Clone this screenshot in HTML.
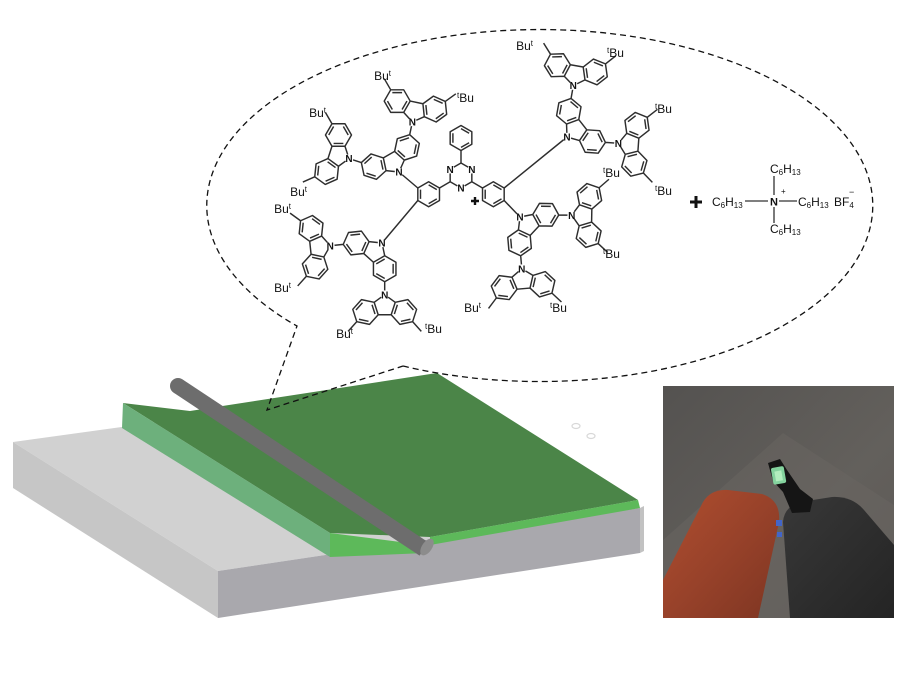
<!DOCTYPE html>
<html>
<head>
<meta charset="utf-8">
<style>
  html,body{margin:0;padding:0;background:#fff;}
  svg{display:block;}
  text{font-family:"Liberation Sans",Arial,sans-serif;fill:#111;}
</style>
</head>
<body>
<svg width="916" height="685" viewBox="0 0 916 685" xmlns="http://www.w3.org/2000/svg">
  <defs>
    <g id="cz" fill="none" stroke="#2e2e2e" stroke-width="1.45" stroke-linejoin="round">
      <path d="M0,0 L-10.52,-7.64 L-6.50,-20.02 L6.50,-20.02 L10.52,-7.64 Z
      M-10.52,-7.64 L-23.23,-4.94 L-31.92,-14.60 L-27.91,-26.97 L-15.20,-29.67 L-6.50,-20.02
      M10.52,-7.64 L23.23,-4.94 L31.92,-14.60 L27.91,-26.97 L15.20,-29.67 L6.50,-20.02
      M-12.69,-10.06 L-9.68,-19.34 M-22.23,-8.03 L-28.74,-15.28 M-25.74,-24.55 L-16.20,-26.58
      M12.69,-10.06 L9.68,-19.34 M22.23,-8.03 L28.74,-15.28 M25.74,-24.55 L16.20,-26.58
      M-27.91,-26.97 L-36.61,-36.63 M27.91,-26.97 L36.61,-36.63"/>
    </g>
    <linearGradient id="bg" x1="0" y1="0" x2="1" y2="1">
      <stop offset="0" stop-color="#545250"/>
      <stop offset="0.6" stop-color="#63605c"/>
      <stop offset="1" stop-color="#5c5855"/>
    </linearGradient>
    <linearGradient id="red" x1="0" y1="0" x2="1" y2="1">
      <stop offset="0" stop-color="#b04e2f"/>
      <stop offset="0.5" stop-color="#98422a"/>
      <stop offset="1" stop-color="#7e3522"/>
    </linearGradient>
    <linearGradient id="blk" x1="0" y1="0" x2="1" y2="1">
      <stop offset="0" stop-color="#383838"/>
      <stop offset="1" stop-color="#242424"/>
    </linearGradient>
  </defs>

  <!-- ===== Slab ===== -->
  <polygon points="13,442 441,383 640,508 218,571" fill="#d1d1d1"/>
  <polygon points="13,442 218,571 218,618 13,488" fill="#c6c6c6"/>
  <polygon points="218,571 640,508 640,553 218,618" fill="#a9a8ad"/>
  <polygon points="640,508 644,506 644,551 640,553" fill="#c2c2c2"/>

  <!-- green film -->
  <polygon points="123,403 190,411 437,373 638,500 430,537 330,533" fill="#4b8548"/>
  <polygon points="123,403 330,533 330,557 122,428" fill="#6db07c"/>
  <polygon points="330,533 424,545 426,553 330,557" fill="#5db95a"/>
  <polygon points="430,537 638,500 640,508 430,545" fill="#5db95a"/>

  <!-- rod -->
  <line x1="178" y1="386" x2="424" y2="549" stroke="#6d6d6d" stroke-width="16" stroke-linecap="butt"/>
  <circle cx="178" cy="386" r="8" fill="#6d6d6d"/>
  <ellipse cx="427" cy="547" rx="5" ry="9.5" transform="rotate(33.6 427 547)" fill="#8c8c8c"/>

  <!-- faint marks -->
  <ellipse cx="576" cy="426" rx="4" ry="2.5" fill="none" stroke="#d8d8d8" stroke-width="1.2"/>
  <ellipse cx="591" cy="436" rx="4" ry="2.5" fill="none" stroke="#d8d8d8" stroke-width="1.2"/>

  <!-- ===== Callout ===== -->
  <path d="M403,366 A333,176 0 1 0 297,326 L267,410 L403,366" fill="none" stroke="#111" stroke-width="1.3" stroke-dasharray="6 4"/>

  <!-- ===== Photo ===== -->
  <rect x="663" y="386" width="231" height="232" fill="url(#bg)"/>
  <polygon points="783,433 894,505 894,618 663,618 663,540" fill="#6a6561" opacity="0.5"/>
  <path d="M663,580 L703,502 Q711,489 728,490 L762,494 Q781,500 779,522 L758,618 L663,618 Z" fill="url(#red)"/>
  <path d="M783,522 Q784,507 800,502 L832,497 Q852,496 864,510 L894,545 L894,618 L790,618 Z" fill="url(#blk)"/>
  <rect x="776" y="520" width="6" height="6" fill="#4265c8"/>
  <rect x="777" y="532" width="5" height="5" fill="#4265c8"/>
  <polygon points="768,463 780,459 787,470 800,489 813,499 810,512 792,513 783,492 773,481" fill="#151515"/>
  <rect x="772" y="467" width="13" height="17" rx="2" fill="#84d39e" transform="rotate(-10 778 475)"/>
  <rect x="775" y="471" width="7" height="10" fill="#b2eebe" transform="rotate(-10 778 475)"/>

  <!-- ===== Molecule ===== -->
  <g>
    <use href="#cz" transform="translate(399,172) rotate(-30)"/>
    <use href="#cz" transform="translate(382,243) rotate(-138)"/>
    <use href="#cz" transform="translate(520,217) rotate(133)"/>
    <use href="#cz" transform="translate(567,137) rotate(52)"/>
    <use href="#cz" transform="translate(349,158.6) rotate(-72)"/>
    <use href="#cz" transform="translate(412.4,122) rotate(12)"/>
    <use href="#cz" transform="translate(384.7,294.7) rotate(-180)"/>
    <use href="#cz" transform="translate(330.3,245.7) rotate(-96)"/>
    <use href="#cz" transform="translate(571.7,215.2) rotate(91)"/>
    <use href="#cz" transform="translate(521.8,268.7) rotate(175)"/>
    <use href="#cz" transform="translate(573.3,85.6) rotate(10)"/>
    <use href="#cz" transform="translate(618.4,143.3) rotate(94)"/>
  </g>
  <g fill="none" stroke="#2e2e2e" stroke-width="1.45" stroke-linejoin="round">
    <!-- triazine -->
    <polygon points="461,163 471.83,169.25 471.83,181.75 461,188 450.17,181.75 450.17,169.25"/>
    <!-- phenyl -->
    <polygon points="461,125.5 471.83,131.75 471.83,144.25 461,150.5 450.17,144.25 450.17,131.75"/>
    <path d="M461,128.6 L469.1,133.3 M469.1,142.7 L461,147.4 M452.9,142.7 L452.9,133.3"/>
    <!-- left benzene -->
    <polygon points="428.65,181.75 439.48,188 439.48,200.5 428.65,206.75 417.82,200.5 417.82,188"/>
    <path d="M428.65,184.9 L436.8,189.6 M436.8,198.9 L428.65,203.6 M420.5,198.9 L420.5,189.6"/>
    <!-- right benzene -->
    <polygon points="493.35,181.75 504.18,188 504.18,200.5 493.35,206.75 482.52,200.5 482.52,188"/>
    <path d="M493.35,184.9 L501.5,189.6 M501.5,198.9 L493.35,203.6 M485.2,198.9 L485.2,189.6"/>
    <!-- connecting bonds -->
    <path d="M461,150.5 L461,163 M439.48,188 L450.17,181.75 M482.52,188 L471.83,181.75
             M417.82,188 L399,172 M417.82,200.5 L382,243 M504.18,200.5 L520,217 M504.18,188 L567,137"/>
  </g>
  <path d="M471,201 H479 M475,197 V205" stroke="#111" stroke-width="2.4"/>

  <!-- N labels -->
  <g fill="#fff">
    <circle cx="399" cy="172" r="4.3"/><circle cx="382" cy="243" r="4.3"/>
    <circle cx="520" cy="217" r="4.3"/><circle cx="567" cy="137" r="4.3"/>
    <circle cx="349" cy="158.6" r="4.3"/><circle cx="412.4" cy="122" r="4.3"/>
    <circle cx="384.7" cy="294.7" r="4.3"/><circle cx="330.3" cy="245.7" r="4.3"/>
    <circle cx="571.7" cy="215.2" r="4.3"/><circle cx="521.8" cy="268.7" r="4.3"/>
    <circle cx="573.3" cy="85.6" r="4.3"/><circle cx="618.4" cy="143.3" r="4.3"/>
    <circle cx="471.83" cy="169.25" r="4.3"/><circle cx="461" cy="188" r="4.3"/>
    <circle cx="450.17" cy="169.25" r="4.3"/>
  </g>
  <g font-size="10" font-weight="bold" text-anchor="middle">
    <text x="399" y="175.6">N</text><text x="382" y="246.6">N</text>
    <text x="520" y="220.6">N</text><text x="567" y="140.6">N</text>
    <text x="349" y="162.2">N</text><text x="412.4" y="125.6">N</text>
    <text x="384.7" y="298.3">N</text><text x="330.3" y="249.3">N</text>
    <text x="571.7" y="218.8">N</text><text x="521.8" y="272.3">N</text>
    <text x="573.3" y="89.2">N</text><text x="618.4" y="146.9">N</text>
    <text x="471.83" y="172.8">N</text><text x="461" y="191.6">N</text>
    <text x="450.17" y="172.8">N</text>
  </g>

  <!-- tBu labels -->
  <g font-size="12">
    <text x="391" y="80" text-anchor="end">Bu<tspan font-size="8" dy="-4">t</tspan></text>
    <text x="457" y="102"><tspan font-size="8" dy="-4">t</tspan><tspan dy="4">Bu</tspan></text>
    <text x="326" y="117" text-anchor="end">Bu<tspan font-size="8" dy="-4">t</tspan></text>
    <text x="307" y="196" text-anchor="end">Bu<tspan font-size="8" dy="-4">t</tspan></text>
    <text x="291" y="213" text-anchor="end">Bu<tspan font-size="8" dy="-4">t</tspan></text>
    <text x="291" y="292" text-anchor="end">Bu<tspan font-size="8" dy="-4">t</tspan></text>
    <text x="353" y="338" text-anchor="end">Bu<tspan font-size="8" dy="-4">t</tspan></text>
    <text x="425" y="333"><tspan font-size="8" dy="-4">t</tspan><tspan dy="4">Bu</tspan></text>
    <text x="533" y="50" text-anchor="end">Bu<tspan font-size="8" dy="-4">t</tspan></text>
    <text x="607" y="57"><tspan font-size="8" dy="-4">t</tspan><tspan dy="4">Bu</tspan></text>
    <text x="655" y="113"><tspan font-size="8" dy="-4">t</tspan><tspan dy="4">Bu</tspan></text>
    <text x="655" y="195"><tspan font-size="8" dy="-4">t</tspan><tspan dy="4">Bu</tspan></text>
    <text x="603" y="177"><tspan font-size="8" dy="-4">t</tspan><tspan dy="4">Bu</tspan></text>
    <text x="603" y="258"><tspan font-size="8" dy="-4">t</tspan><tspan dy="4">Bu</tspan></text>
    <text x="481" y="312" text-anchor="end">Bu<tspan font-size="8" dy="-4">t</tspan></text>
    <text x="550" y="312"><tspan font-size="8" dy="-4">t</tspan><tspan dy="4">Bu</tspan></text>
  </g>

  <!-- Cation / anion -->
  <path d="M690,202 H702 M696,196 V208" stroke="#111" stroke-width="3"/>
  <g stroke="#333" stroke-width="1.3">
    <line x1="745" y1="201" x2="768" y2="201"/>
    <line x1="779" y1="201" x2="797" y2="201"/>
    <line x1="774" y1="176" x2="774" y2="195"/>
    <line x1="774" y1="207" x2="774" y2="223"/>
  </g>
  <g font-size="12">
    <text x="712" y="206">C<tspan font-size="8" dy="2">6</tspan><tspan dy="-2">H</tspan><tspan font-size="8" dy="2">13</tspan></text>
    <text x="770" y="173">C<tspan font-size="8" dy="2">6</tspan><tspan dy="-2">H</tspan><tspan font-size="8" dy="2">13</tspan></text>
    <text x="770" y="233">C<tspan font-size="8" dy="2">6</tspan><tspan dy="-2">H</tspan><tspan font-size="8" dy="2">13</tspan></text>
    <text x="798" y="206">C<tspan font-size="8" dy="2">6</tspan><tspan dy="-2">H</tspan><tspan font-size="8" dy="2">13</tspan></text>
    <text x="834" y="206">BF<tspan font-size="8" dy="2">4</tspan></text>
    <text x="774" y="205.5" text-anchor="middle" font-weight="bold" font-size="11">N</text>
  </g>
  <text x="781" y="194" font-size="8">+</text>
  <text x="849" y="195" font-size="9">−</text>
</svg>
</body>
</html>
